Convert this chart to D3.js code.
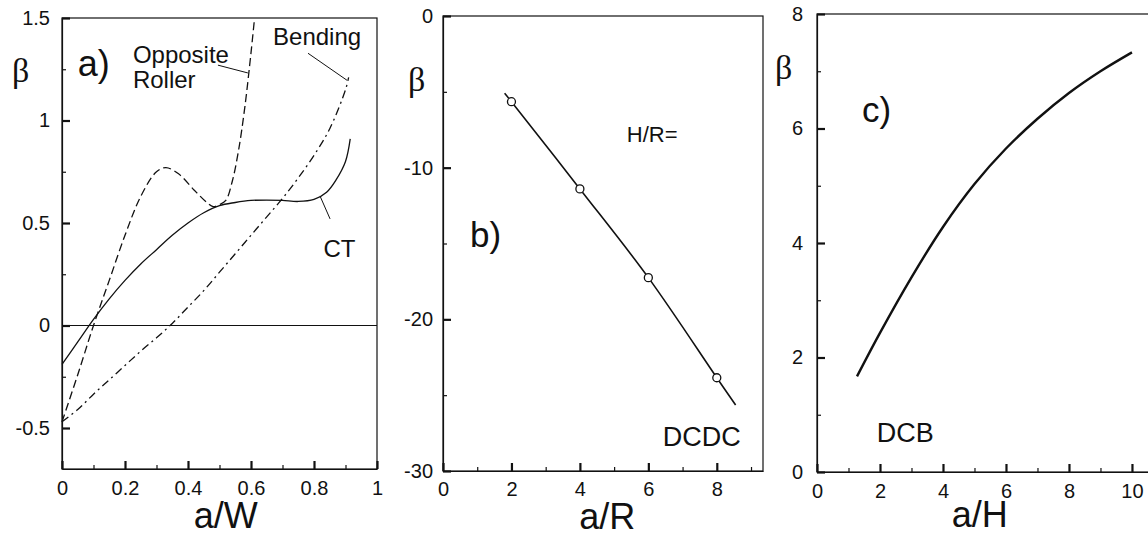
<!DOCTYPE html>
<html>
<head>
<meta charset="utf-8">
<script src="https://cdnjs.cloudflare.com/ajax/libs/d3/7.8.5/d3.min.js"></script>
<style>
  body { margin: 0; background: #fff; }
  svg { display: block; }
</style>
</head>
<body>
<div id="canvas"></div>
<script>
// panel a) : beta vs a/W
var ctCurve = [[0,-0.19],[0.05,-0.08],[0.1,0.03],[0.15,0.13],[0.2,0.22],[0.25,0.30],[0.3,0.37],
  [0.35,0.44],[0.4,0.50],[0.45,0.55],[0.5,0.585],[0.55,0.60],[0.6,0.61],[0.65,0.612],[0.7,0.61],
  [0.75,0.605],[0.8,0.615],[0.84,0.65],[0.87,0.71],[0.9,0.80],[0.915,0.91]];
var rollerCurve = [[0,-0.47],[0.05,-0.24],[0.1,0.0],[0.15,0.22],[0.2,0.44],[0.25,0.63],[0.3,0.75],
  [0.33,0.77],[0.37,0.74],[0.42,0.66],[0.46,0.60],[0.48,0.58],[0.5,0.59],[0.52,0.61],[0.54,0.70],
  [0.56,0.85],[0.58,1.06],[0.6,1.33],[0.61,1.48]];
var bendingCurve = [[0,-0.47],[0.05,-0.41],[0.1,-0.335],[0.15,-0.265],[0.2,-0.195],[0.25,-0.125],
  [0.3,-0.06],[0.35,0.01],[0.4,0.09],[0.45,0.17],[0.5,0.26],[0.55,0.35],[0.6,0.44],[0.65,0.53],
  [0.7,0.62],[0.75,0.72],[0.8,0.83],[0.85,0.96],[0.9,1.15],[0.91,1.21]];
var aTicksX = [0, 0.2, 0.4, 0.6, 0.8, 1], aMinorX = [0.1, 0.3, 0.5, 0.7, 0.9];
var aTicksY = [-0.5, 0, 0.5, 1, 1.5], aMinorY = [-0.25, 0.25, 0.75, 1.25];
var aLabels = [
  {text: 'a)', x: 0.05, y: 1.215, size: 36},
  {text: 'Opposite', x: 0.225, y: 1.282, size: 24},
  {text: 'Roller', x: 0.225, y: 1.158, size: 24},
  {text: 'Bending', x: 0.67, y: 1.368, size: 24},
  {text: 'CT', x: 0.83, y: 0.333, size: 24}];
var aPointers = [[[0.495,1.27],[0.59,1.232]], [[0.781,1.328],[0.905,1.196]], [[0.819,0.632],[0.851,0.52]]];

// panel b) : beta vs a/R, DCDC
var dcdcLine = [[1.8,-5.1],[2,-5.65],[4,-11.4],[6,-17.25],[8,-23.85],[8.55,-25.65]];
var dcdcPoints = [[2,-5.65],[4,-11.4],[6,-17.25],[8,-23.85]];
var bTicksX = [0, 2, 4, 6, 8], bMinorX = [1, 3, 5, 7, 9];
var bTicksY = [-30, -20, -10, 0], bMinorY = [-25, -15, -5];
var bLabels = [
  {text: 'b)', x: 0.79, y: -15.2, size: 35},
  {text: 'H/R=', x: 5.37, y: -8.3, size: 22},
  {text: 'DCDC', x: 6.42, y: -28.35, size: 27}];

// panel c) : beta vs a/H, DCB
var dcbCurve = [[1.27,1.67],[2,2.43],[3,3.4],[4,4.28],[5,5.03],[6,5.65],[7,6.17],[8,6.62],[9,7.0],[10,7.33]];
var cTicksX = [0, 2, 4, 6, 8, 10], cMinorX = [1, 3, 5, 7, 9];
var cTicksY = [0, 2, 4, 6, 8], cMinorY = [1, 3, 5, 7];
var cLabels = [
  {text: 'c)', x: 1.43, y: 6.12, size: 35},
  {text: 'DCB', x: 1.9, y: 0.52, size: 27}];

var sans = 'Arial, "Liberation Sans", Helvetica, sans-serif';
var serif = '"Times New Roman", "Liberation Serif", serif';
var ink = '#111';

var svg = d3.select('#canvas').append('svg')
  .attr('width', 1148)
  .attr('height', 533);

function plain (d) { return String(d); }

function panel (o) {
  var x = d3.scaleLinear().domain(o.xDomain).range([o.left, o.right]);
  var y = d3.scaleLinear().domain(o.yDomain).range([o.bottom, o.top]);
  var g = svg.append('g');

  // frame
  g.append('rect')
    .attr('x', o.left).attr('y', o.top)
    .attr('width', o.right - o.left).attr('height', o.bottom - o.top)
    .attr('fill', 'none').attr('stroke', ink).attr('stroke-width', 1.2);

  // major ticks (inward) with labels
  var xa = g.append('g')
    .attr('transform', 'translate(0,' + o.bottom + ')')
    .call(d3.axisBottom(x).tickValues(o.ticksX).tickSizeInner(-8).tickSizeOuter(0).tickPadding(o.padX).tickFormat(plain));
  var ya = g.append('g')
    .attr('transform', 'translate(' + o.left + ',0)')
    .call(d3.axisLeft(y).tickValues(o.ticksY).tickSizeInner(-8).tickSizeOuter(0).tickPadding(o.padY).tickFormat(plain));
  [xa, ya].forEach(function (a) {
    a.attr('font-family', sans).attr('font-size', 20);
    a.select('.domain').attr('stroke', ink).attr('stroke-width', 1.2);
    a.selectAll('.tick line').attr('stroke', ink).attr('stroke-width', 2.2);
    a.selectAll('.tick text').attr('fill', ink);
  });

  // minor ticks
  g.append('g')
    .attr('transform', 'translate(0,' + o.bottom + ')')
    .call(d3.axisBottom(x).tickValues(o.minorX).tickSizeInner(-4).tickSizeOuter(0).tickFormat(''))
    .call(function (a) { a.select('.domain').remove(); a.selectAll('line').attr('stroke', ink).attr('stroke-width', 1.2); });
  g.append('g')
    .attr('transform', 'translate(' + o.left + ',0)')
    .call(d3.axisLeft(y).tickValues(o.minorY).tickSizeInner(-4).tickSizeOuter(0).tickFormat(''))
    .call(function (a) { a.select('.domain').remove(); a.selectAll('line').attr('stroke', ink).attr('stroke-width', 1.2); });

  // beta and axis title
  g.append('text')
    .attr('x', o.left + o.betaDx).attr('y', o.top + o.betaDy)
    .attr('font-family', serif).attr('font-size', 34).attr('fill', ink)
    .text('β');
  g.append('text')
    .attr('x', x(o.titleX)).attr('y', o.titleY)
    .attr('text-anchor', 'middle')
    .attr('font-family', sans).attr('font-size', 36).attr('fill', ink)
    .text(o.title);

  var line = d3.line()
    .x(function (d) { return x(d[0]); })
    .y(function (d) { return y(d[1]); })
    .curve(d3.curveCatmullRom.alpha(0.5));

  o.series.forEach(function (s) {
    g.append('path')
      .attr('d', line(s.data))
      .attr('fill', 'none')
      .attr('stroke', ink)
      .attr('stroke-width', s.width)
      .attr('stroke-dasharray', s.dash || null);
  });

  (o.points || []).forEach(function (p) {
    g.append('circle')
      .attr('cx', x(p[0])).attr('cy', y(p[1])).attr('r', 4)
      .attr('fill', '#fff').attr('stroke', ink).attr('stroke-width', 1.3);
  });

  (o.pointers || []).forEach(function (p) {
    g.append('line')
      .attr('x1', x(p[0][0])).attr('y1', y(p[0][1]))
      .attr('x2', x(p[1][0])).attr('y2', y(p[1][1]))
      .attr('stroke', ink).attr('stroke-width', 1);
  });

  o.labels.forEach(function (l) {
    g.append('text')
      .attr('x', x(l.x)).attr('y', y(l.y))
      .attr('font-family', sans).attr('font-size', l.size).attr('fill', ink)
      .text(l.text);
  });

  if (o.zeroLine) {
    g.append('line')
      .attr('x1', o.left).attr('x2', o.right)
      .attr('y1', y(0)).attr('y2', y(0))
      .attr('stroke', ink).attr('stroke-width', 1.2);
  }
}

panel({
  left: 62, right: 377, top: 18, bottom: 469,
  xDomain: [0, 1], yDomain: [-0.7, 1.5],
  ticksX: aTicksX, minorX: aMinorX, ticksY: aTicksY, minorY: aMinorY,
  padX: 12, padY: 12, betaDx: -50, betaDy: 64,
  title: 'a/W', titleX: 0.52, titleY: 528,
  zeroLine: true,
  series: [
    {data: ctCurve, width: 1.3},
    {data: rollerCurve, width: 1.3, dash: '8,4'},
    {data: bendingCurve, width: 1.3, dash: '8,4,2,4'}],
  pointers: aPointers,
  labels: aLabels
});

panel({
  left: 443, right: 763, top: 16, bottom: 471,
  xDomain: [0, 9.35], yDomain: [-30, 0],
  ticksX: bTicksX, minorX: bMinorX, ticksY: bTicksY, minorY: bMinorY,
  padX: 11, padY: 10, betaDx: -35, betaDy: 75,
  title: 'a/R', titleX: 4.8, titleY: 529,
  series: [{data: dcdcLine, width: 1.6}],
  points: dcdcPoints,
  labels: bLabels
});

panel({
  left: 817, right: 1160, top: 14, bottom: 472,
  xDomain: [0, 10.89], yDomain: [0, 8],
  ticksX: cTicksX, minorX: cMinorX, ticksY: cTicksY, minorY: cMinorY,
  padX: 12, padY: 14, betaDx: -42, betaDy: 65,
  title: 'a/H', titleX: 5.17, titleY: 527,
  series: [{data: dcbCurve, width: 2.4}],
  labels: cLabels
});
</script>
</body>
</html>
